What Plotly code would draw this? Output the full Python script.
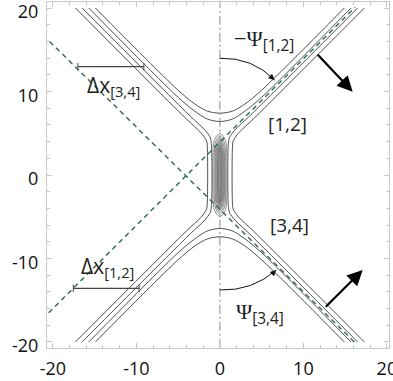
import plotly.graph_objects as go

# ---------------- data ----------------
x_ticks = [-20, -10, 0, 10, 20]
y_ticks = [-20, -10, 0, 10, 20]
x_tick_labels = ["-20", "-10", "0", "10", "20"]
y_tick_labels = ["-20", "-10", "0", "10", "20"]

# outer contour level (level 1)
top1_x = [-14.9, -5.0, -3.0, -1.5, 0.0, 1.5, 3.0, 5.0, 14.9]
top1_y = [20.0, 10.15, 8.5, 7.65, 7.4, 7.65, 8.5, 10.15, 20.0]
left1_x = [-17.3, -4.0, -2.3, -1.6, -1.5, -1.5, -1.6, -2.3, -4.0, -17.3]
left1_y = [20.0, 6.7, 5.1, 4.1, 3.2, -3.2, -4.1, -5.1, -6.7, -20.0]

# inner contour level (level 2)
top2_x = [-15.7, -5.0, -3.0, -1.5, 0.0, 1.5, 3.0, 5.0, 15.7]
top2_y = [20.0, 9.3, 7.65, 6.7, 6.4, 6.7, 7.65, 9.3, 20.0]
left2_x = [-16.5, -3.5, -1.9, -1.15, -1.0, -1.0, -1.15, -1.9, -3.5, -16.5]
left2_y = [20.0, 7.0, 5.5, 4.5, 3.5, -3.5, -4.5, -5.5, -7.0, -20.0]

# closed contours inside the stem: half-widths and half-heights
stem_half_w = [0.8, 0.66, 0.54, 0.44, 0.35, 0.27, 0.2, 0.13, 0.07]
stem_half_h = [5.0, 4.7, 4.45, 4.2, 4.0, 3.8, 3.6, 3.4, 3.2]

# green dashed crest lines of the right-hand solitons, extended
greenA_x = [-20.4, 16.2]
greenA_y = [16.0, -20.1]
greenB_x = [-20.5, 16.2]
greenB_y = [-16.5, 20.1]

# phase-shift segments
dx34_x = [-17.0, -9.1]
dx34_y = [12.97, 12.97]
dx12_x = [-17.55, -9.67]
dx12_y = [-13.57, -13.57]

CONTOUR = "#3c3c3c"
STEM = "#6a6a6a"
GREEN = "#2d6b50"

fig = go.Figure()


def add_line(x, y, color=CONTOUR, width=0.9, dash=None, shape="spline"):
    fig.add_trace(go.Scatter(x=x, y=y, mode="lines",
                             line=dict(color=color, width=width, dash=dash,
                                       shape=shape, smoothing=0.8),
                             hoverinfo="skip", showlegend=False))


# branch / hyperbola-like contour lines (symmetric copies)
for tx, ty, lx, ly in [(top1_x, top1_y, left1_x, left1_y),
                       (top2_x, top2_y, left2_x, left2_y)]:
    add_line(tx, ty)                          # upper curve
    add_line(tx, [-v for v in ty])            # lower curve
    add_line(lx, ly)                          # left curve
    add_line([-v for v in lx], ly)            # right curve

# closed contours in the stem
for w, h in zip(stem_half_w, stem_half_h):
    rel = [(0, h), (0.45 * w, h - 0.3), (0.85 * w, h - 0.9), (w, h - 1.8),
           (w, -(h - 1.8)), (0.85 * w, -(h - 0.9)), (0.45 * w, -(h - 0.3)),
           (0, -h), (-0.45 * w, -(h - 0.3)), (-0.85 * w, -(h - 0.9)),
           (-w, -(h - 1.8)), (-w, h - 1.8), (-0.85 * w, h - 0.9),
           (-0.45 * w, h - 0.3), (0, h)]
    add_line([p[0] for p in rel], [p[1] for p in rel], color=STEM, width=0.8)

# vertical dash-dot symmetry line
add_line([0, 0], [-20.7, 20.7], color="#8a8a8a", width=1.0,
         dash="9px,3px,2px,3px", shape="linear")

# green dashed lines
add_line(greenA_x, greenA_y, color=GREEN, width=1.4, dash="5px,4px", shape="linear")
add_line(greenB_x, greenB_y, color=GREEN, width=1.4, dash="5px,4px", shape="linear")

# phase-shift segments with end bars
for sx, sy in [(dx34_x, dx34_y), (dx12_x, dx12_y)]:
    add_line(sx, sy, color="#444", width=1.2, shape="linear")
    for xe in sx:
        add_line([xe, xe], [sy[0] - 0.45, sy[0] + 0.45], color="#444", width=1.0,
                 shape="linear")

shapes = [
    dict(type="path", path="M 0,13.98 Q 3.9,14.1 6.55,11.38", xref="x", yref="y",
         line=dict(color="#111", width=1.0)),
    dict(type="path", path="M 0,-13.77 Q 3.9,-13.9 6.75,-11.38", xref="x", yref="y",
         line=dict(color="#111", width=1.0)),
]

annotations = [
    # arc arrowheads
    dict(x=6.55, y=11.38, ax=5.85, ay=12.0, xref="x", yref="y", axref="x", ayref="y",
         text="", showarrow=True, arrowhead=2, arrowsize=1.2, arrowwidth=1, arrowcolor="#111"),
    dict(x=6.75, y=-11.38, ax=6.05, ay=-12.05, xref="x", yref="y", axref="x", ayref="y",
         text="", showarrow=True, arrowhead=2, arrowsize=1.2, arrowwidth=1, arrowcolor="#111"),
    # thick arrows
    dict(x=15.9, y=9.98, ax=11.55, ay=14.57, xref="x", yref="y", axref="x", ayref="y",
         text="", showarrow=True, arrowhead=2, arrowsize=1.4, arrowwidth=2.2, arrowcolor="#000"),
    dict(x=17.1, y=-11.38, ax=12.5, ay=-15.96, xref="x", yref="y", axref="x", ayref="y",
         text="", showarrow=True, arrowhead=2, arrowsize=1.4, arrowwidth=2.2, arrowcolor="#000"),
    # text labels
    dict(x=-12.7, y=10.7, text="Δx<sub>[3,4]</sub>", showarrow=False,
         font=dict(size=21, color="#222", family="Open Sans")),
    dict(x=-13.5, y=-11.0, text="Δx<sub>[1,2]</sub>", showarrow=False,
         font=dict(size=21, color="#222", family="Open Sans")),
    dict(x=5.3, y=16.0,
         text="<span style='font-family:Liberation Serif'>−Ψ</span><sub>[1,2]</sub>",
         showarrow=False, font=dict(size=22, color="#222", family="Open Sans")),
    dict(x=4.85, y=-16.6,
         text="<span style='font-family:Liberation Serif'>Ψ</span><sub>[3,4]</sub>",
         showarrow=False, font=dict(size=22, color="#222", family="Open Sans")),
    dict(x=8.14, y=6.1, text="[1,2]", showarrow=False,
         font=dict(size=19, color="#222", family="Open Sans")),
    dict(x=8.38, y=-6.0, text="[3,4]", showarrow=False,
         font=dict(size=19, color="#222", family="Open Sans")),
]

axis_common = dict(
    ticks="inside", ticklen=5, tickwidth=1, tickcolor="#c8c8c8",
    showline=True, linecolor="#c8c8c8", linewidth=1, mirror="allticks",
    showgrid=False, zeroline=False, automargin=False, ticklabeloverflow="allow",
    tickfont=dict(family="Open Sans", size=18, color="#111"),
    minor=dict(dtick=2, tick0=0, ticks="inside", ticklen=3, tickcolor="#c8c8c8"),
)

fig.update_layout(
    width=393, height=381,
    margin=dict(l=47, r=4, t=2, b=33),
    paper_bgcolor="white", plot_bgcolor="white",
    shapes=shapes, annotations=annotations,
    xaxis=dict(axis_common, range=[-20.7, 20.25], tickvals=x_ticks,
               ticktext=x_tick_labels, ticklabelstandoff=4),
    yaxis=dict(axis_common, range=[-20.72, 20.72], tickvals=y_ticks,
               ticktext=y_tick_labels, ticklabelstandoff=4, ticklabelshift=4),
)

fig.write_html("out.html",
               config={"displayModeBar": False, "staticPlot": True},
               post_script="document.body.style.margin='0';"
                           "document.body.style.overflow='hidden';")
